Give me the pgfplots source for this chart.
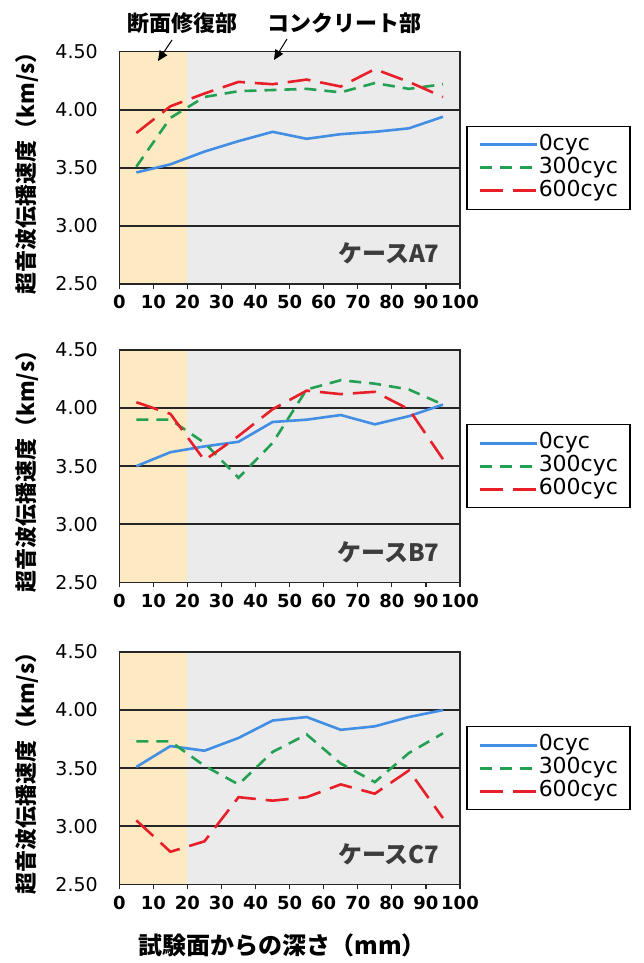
\documentclass[border=0pt]{standalone}
\usepackage{pgfplots}
\pgfplotsset{compat=1.18}
\usepackage{fontspec}
\setmainfont{Noto Sans CJK JP}
\newfontfamily\lat{DejaVu Sans}
\usetikzlibrary{arrows.meta}
\definecolor{c0}{RGB}{66,142,228}
\definecolor{c300}{RGB}{36,160,82}
\definecolor{c600}{RGB}{232,30,40}
\definecolor{bgor}{RGB}{253,234,194}
\definecolor{bggr}{RGB}{235,235,235}
\definecolor{txt}{RGB}{60,60,60}
\pgfplotsset{
 panel/.style={
  width=340.7pt, height=232.3pt, scale only axis,
  xmin=0, xmax=100, ymin=2.5, ymax=4.5,
  xtick={0,10,...,100}, ytick={2.5,3,...,4.5},
  /pgf/number format/assume math mode=true,
  yticklabel style={font=\lat\fontsize{19}{19}\selectfont, xshift=-13pt, /pgf/number format/.cd, fixed, fixed zerofill, precision=2, assume math mode=true},
  xticklabel style={font=\lat\bfseries\fontsize{18}{18}\selectfont, yshift=-3pt},
  axis on top,
  axis line style={line width=1.5pt, black!85},
  tick align=outside, xtick pos=left, ytick pos=left,
  major tick length=5pt,
  xtick style={line width=1.2pt, black!85},
  ytick style={draw=none},
  ylabel={\bfseries 超音波伝播速度（km/s）},
  ylabel style={at={(axis description cs:-0.27,0.5)}, anchor=center, font=\fontsize{22}{22}\selectfont},
  legend cell align=left,
  legend image code/.code={\draw[#1, line width=3pt] (0pt,0pt) -- (57pt,0pt);},
  legend style={at={(rel axis cs:1,0.5)}, anchor=west, xshift=6pt, draw=black, line width=1.5pt, fill=white,
    font=\lat\fontsize{22}{22}\selectfont, inner xsep=12pt, inner ysep=7pt, row sep=0pt,
    nodes={inner sep=0pt, text height=17pt, text depth=6pt},
    /tikz/every even column/.append style={column sep=16pt}},
 },
 s0/.style={color=c0, solid, line width=2.6pt, mark=none},
 s300/.style={color=c300, dash pattern=on 12pt off 8pt, line width=2.6pt, mark=none},
 s600/.style={color=c600, dash pattern=on 23pt off 10pt, line width=2.6pt, mark=none},
}
\newcommand{\panelbg}{%
  \fill[bgor] (axis cs:0,2.5) rectangle (axis cs:20,4.5);
  \fill[bggr] (axis cs:20,2.5) rectangle (axis cs:100,4.5);
  \draw[line width=1.5pt, black!85] (axis cs:0,3) -- (axis cs:100,3);
  \draw[line width=1.5pt, black!85] (axis cs:0,3.5) -- (axis cs:100,3.5);
  \draw[line width=1.5pt, black!85] (axis cs:0,4) -- (axis cs:100,4);
}
\begin{document}
\begin{tikzpicture}
\useasboundingbox (0pt,0pt) rectangle (643pt,963pt);
% Panel A7
\begin{axis}[panel, at={(119.3pt,679pt)}, anchor=south west]
\panelbg
\addplot[s0] coordinates {(5,3.46) (15,3.53) (25,3.64) (35,3.73) (45,3.81) (55,3.75) (65,3.79) (75,3.81) (85,3.84) (95,3.94)};
\addplot[s300] coordinates {(5,3.51) (15,3.93) (25,4.11) (35,4.16) (45,4.17) (55,4.18) (65,4.15) (75,4.23) (85,4.18) (95,4.22)};
\addplot[s600] coordinates {(5,3.80) (15,4.03) (25,4.14) (35,4.24) (45,4.22) (55,4.26) (65,4.20) (75,4.35) (85,4.24) (95,4.11)};
\legend{0cyc,300cyc,600cyc}
\node[anchor=east, text=txt, font=\bfseries\fontsize{24}{24}\selectfont] at (axis description cs:0.95,0.13) {ケースA7};
\end{axis}
% Panel B7
\begin{axis}[panel, at={(119.3pt,380.7pt)}, anchor=south west]
\panelbg
\addplot[s0] coordinates {(5,3.50) (15,3.62) (25,3.67) (35,3.71) (45,3.88) (55,3.90) (65,3.94) (75,3.86) (85,3.93) (95,4.03)};
\addplot[s300] coordinates {(5,3.90) (15,3.90) (25,3.70) (35,3.40) (45,3.70) (55,4.16) (65,4.24) (75,4.21) (85,4.16) (95,4.03)};
\addplot[s600] coordinates {(5,4.05) (15,3.95) (25,3.55) (35,3.76) (45,3.99) (55,4.15) (65,4.12) (75,4.14) (85,3.99) (95,3.56)};
\legend{0cyc,300cyc,600cyc}
\node[anchor=east, text=txt, font=\bfseries\fontsize{24}{24}\selectfont] at (axis description cs:0.95,0.13) {ケースB7};
\end{axis}
% Panel C7
\begin{axis}[panel, at={(119.3pt,78.7pt)}, anchor=south west]
\panelbg
\addplot[s0] coordinates {(5,3.51) (15,3.69) (25,3.65) (35,3.76) (45,3.91) (55,3.94) (65,3.83) (75,3.86) (85,3.94) (95,4.00)};
\addplot[s300] coordinates {(5,3.73) (15,3.73) (25,3.52) (35,3.36) (45,3.64) (55,3.79) (65,3.54) (75,3.38) (85,3.63) (95,3.80)};
\addplot[s600] coordinates {(5,3.05) (15,2.78) (25,2.87) (35,3.25) (45,3.22) (55,3.25) (65,3.36) (75,3.28) (85,3.48) (95,3.07)};
\legend{0cyc,300cyc,600cyc}
\node[anchor=east, text=txt, font=\bfseries\fontsize{24}{24}\selectfont] at (axis description cs:0.95,0.13) {ケースC7};
\end{axis}
\node[font=\bfseries\fontsize{24}{24}\selectfont] at (282pt,18pt) {試験面からの深さ（mm）};
% annotations
\node[font=\bfseries\fontsize{22}{22}\selectfont] at (182pt,940pt) {断面修復部};
\node[font=\bfseries\fontsize{22}{22}\selectfont] at (344pt,940pt) {コンクリート部};
\draw[line width=1pt, -{Triangle[length=10pt,width=9pt]}] (172pt,923pt) -- (158pt,902pt);
\draw[line width=1pt, -{Triangle[length=10pt,width=9pt]}] (287pt,924pt) -- (274pt,903pt);
\end{tikzpicture}
\end{document}
